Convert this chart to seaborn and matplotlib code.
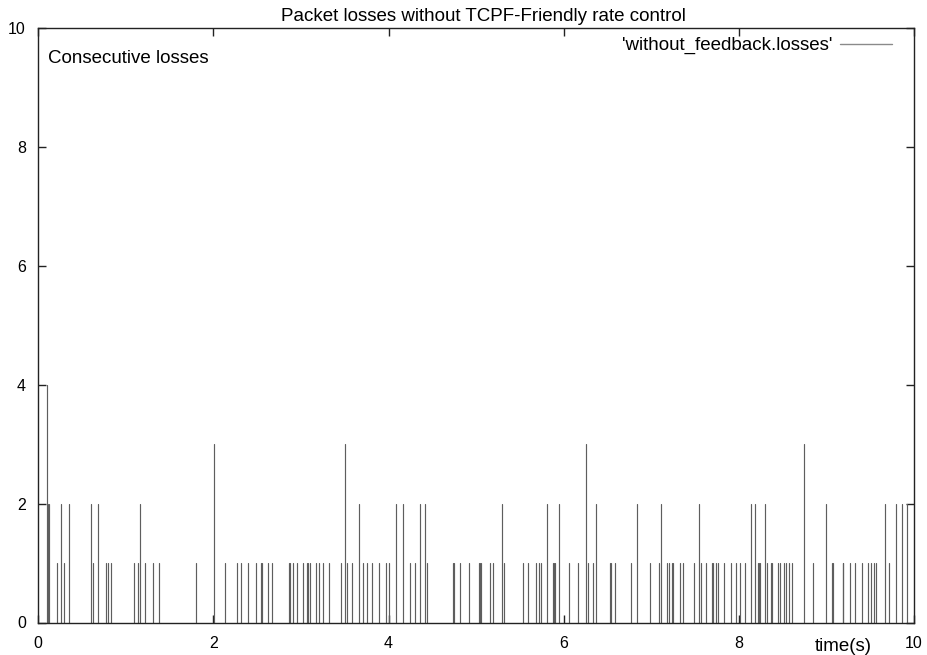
import numpy as np
import pandas as pd
import matplotlib
matplotlib.use("Agg")
import matplotlib.pyplot as plt
from matplotlib.lines import Line2D
import seaborn as sns

# ---- data: time of each loss event (s) and number of consecutive losses ----
loss_time = [
    0.096, 0.106, 0.126, 0.217, 0.255, 0.297, 0.354, 0.606, 0.628, 0.686,
    0.777, 0.800, 0.826, 1.093, 1.135, 1.165, 1.222, 1.306, 1.382,
    1.801, 2.003, 2.136, 2.273, 2.318, 2.398, 2.482, 2.539, 2.551, 2.627,
    2.673, 2.863, 2.878, 2.912, 2.958, 3.019, 3.065, 3.080, 3.103, 3.175,
    3.209, 3.255, 3.323, 3.453, 3.506, 3.529, 3.586, 3.666, 3.712, 3.750,
    3.814, 3.894, 3.971, 4.009, 4.085, 4.168, 4.245, 4.302, 4.363, 4.416,
    4.443, 4.739, 4.751, 4.819, 4.918, 5.029, 5.044, 5.059, 5.154, 5.189,
    5.295, 5.322, 5.539, 5.592, 5.683, 5.714, 5.744, 5.813, 5.874, 5.885,
    5.904, 5.950, 6.064, 6.167, 6.258, 6.281, 6.331, 6.365, 6.525, 6.544,
    6.580, 6.765, 6.841, 6.989, 7.088, 7.115, 7.176, 7.198, 7.240, 7.252,
    7.328, 7.366, 7.484, 7.541, 7.564, 7.621, 7.690, 7.709, 7.735, 7.766,
    7.827, 7.906, 7.964, 8.017, 8.070, 8.142, 8.188, 8.217, 8.230, 8.245,
    8.302, 8.325, 8.371, 8.382, 8.447, 8.470, 8.512, 8.542, 8.569, 8.611,
    8.740, 8.843, 8.999, 9.067, 9.079, 9.186, 9.193, 9.265, 9.326, 9.410,
    9.479, 9.505, 9.543, 9.566, 9.673, 9.711, 9.798, 9.863, 9.924,
]
loss_count = [
    4, 2, 2, 1, 2, 1, 2, 2, 1, 2,
    1, 1, 1, 1, 1, 2, 1, 1, 1,
    1, 3, 1, 1, 1, 1, 1, 1, 1, 1,
    1, 1, 1, 1, 1, 1, 1, 1, 1, 1,
    1, 1, 1, 1, 3, 1, 1, 2, 1, 1,
    1, 1, 1, 1, 2, 2, 1, 1, 2, 2,
    1, 1, 1, 1, 1, 1, 1, 1, 1, 1,
    2, 1, 1, 1, 1, 1, 1, 2, 1, 1,
    1, 2, 1, 1, 3, 1, 1, 2, 1, 1,
    1, 1, 2, 1, 1, 2, 1, 1, 1, 1,
    1, 1, 1, 2, 1, 1, 1, 1, 1, 1,
    1, 1, 1, 1, 1, 2, 2, 1, 1, 1,
    2, 1, 1, 1, 1, 1, 1, 1, 1, 1,
    3, 1, 2, 1, 1, 1, 1, 1, 1, 1,
    1, 1, 1, 1, 2, 1, 2, 2, 2,
]
x_ticks = [0, 2, 4, 6, 8, 10]
y_ticks = [0, 2, 4, 6, 8, 10]
title = "Packet losses without TCPF-Friendly rate control"
series_label = "'without_feedback.losses'"
y_label = "Consecutive losses"
x_label = "time(s)"

# ---- impulse data in long form: each event is a unit with (t,0)-(t,n) ----
rows = []
for i, (t, n) in enumerate(zip(loss_time, loss_count)):
    rows.append({"t": t, "v": 0, "id": i})
    rows.append({"t": t, "v": n, "id": i})
df = pd.DataFrame(rows)

sns.set_theme(style="white")
plt.rcParams["font.family"] = ["Liberation Sans", "DejaVu Sans"]
plt.rcParams["text.color"] = "black"
plt.rcParams["axes.labelcolor"] = "black"

FS = 13.5
TFS = 11.5
W, H = 928, 655
fig = plt.figure(figsize=(W / 100, H / 100), dpi=100)
ax = fig.add_axes([38.3 / W, 1 - 622.5 / H, (914 - 38.3) / W, (622.5 - 28.3) / H])

line_color = "#5e5e5e"
sns.lineplot(data=df, x="t", y="v", units="id", estimator=None, sort=False,
             color=line_color, linewidth=0.85, legend=False, ax=ax)

ax.set_xlim(0, 10)
ax.set_ylim(0, 10)
ax.set_xticks(x_ticks)
ax.set_yticks(y_ticks)
ax.set_xticklabels([str(v) for v in x_ticks])
ax.set_yticklabels([str(v) for v in y_ticks])
ax.set_xlabel("")
ax.set_ylabel("")
ax.tick_params(axis="both", which="major", direction="in", length=6, width=1.0,
               color="#222222", labelsize=TFS, labelcolor="black",
               top=True, right=True, bottom=True, left=True)
ax.tick_params(axis="x", pad=10)
ax.tick_params(axis="y", pad=9)
for s in ax.spines.values():
    s.set_visible(True)
    s.set_color("#222222")
    s.set_linewidth(1.0)
ax.grid(False)
ax.set_facecolor("white")
fig.patch.set_facecolor("white")

# title, labels (gnuplot-like placement)
fig.text(483 / W, 1 - 20.7 / H, title, ha="center", va="baseline", fontsize=FS)
fig.text(48 / W, 1 - 63.3 / H, y_label, ha="left", va="baseline", fontsize=FS)
fig.text(843 / W, 1 - 651 / H, x_label, ha="center", va="baseline", fontsize=FS)

# legend: text then sample line on the right
proxy = Line2D([0], [0], color="#8a8a8a", linewidth=1.0)
ax.legend([proxy], [series_label], loc="center right", frameon=False,
          markerfirst=False, fontsize=FS, handlelength=2.75, handletextpad=0.45,
          borderpad=0, borderaxespad=0,
          bbox_to_anchor=(892 / W, 1 - 45.7 / H), bbox_transform=fig.transFigure)

fig.savefig("out.png", dpi=100, facecolor="white")
